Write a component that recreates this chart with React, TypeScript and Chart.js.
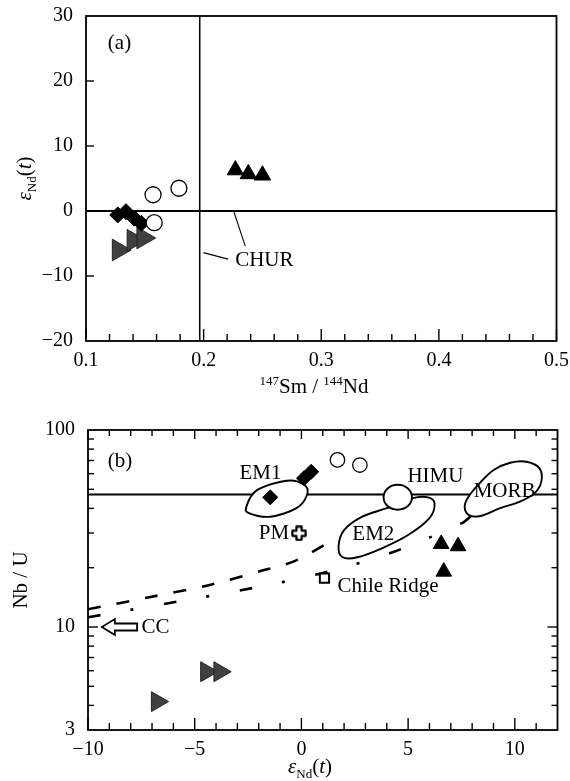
import React, { useEffect, useRef } from "react";
import { Chart, registerables } from "chart.js";
Chart.register(...registerables);

const FONT = "'Liberation Serif', 'Times New Roman', serif";

// ---------------- Panel (a) ----------------
const aXTickValues = [0.1, 0.2, 0.3, 0.4, 0.5];
const aXMinorTicks = [0.12, 0.14, 0.16, 0.18, 0.22, 0.24, 0.26, 0.28, 0.32, 0.34, 0.36, 0.38, 0.42, 0.44, 0.46, 0.48];
const aYTickValues = [-20, -10, 0, 10, 20, 30];
const aYInnerTicks = [-10, 0, 10, 20];
const aCircles = [
  { x: 0.157, y: 2.5 },
  { x: 0.179, y: 3.5 },
  { x: 0.158, y: -1.8 },
];
const aDiamonds = [
  { x: 0.127, y: -0.6 },
  { x: 0.134, y: -0.1 },
  { x: 0.141, y: -1.1 },
  { x: 0.147, y: -1.9 },
];
const aTrianglesUp = [
  { x: 0.227, y: 6.3 },
  { x: 0.238, y: 5.7 },
  { x: 0.25, y: 5.5 },
];
const aTrianglesRight = [
  { x: 0.1277, y: -6.0 },
  { x: 0.1403, y: -4.5 },
  { x: 0.1486, y: -4.15 },
];
const CHUR_SMND = 0.1967;
const CHUR_END = 0;
const aChurLeader1 = [
  { x: 0.1998, y: -6.4 },
  { x: 0.2208, y: -7.4 },
];
const aChurLeader2 = [
  { x: 0.2258, y: -0.15 },
  { x: 0.2354, y: -5.4 },
];
const aChurLabel = { x: 0.2268, y: -7.6, text: "CHUR" };
const aPanelLabel = { x: 0.1285, y: 25.7, text: "(a)" };

// ---------------- Panel (b) ----------------
const bXTickValues = [-10, -5, 0, 5, 10];
const bXMinorTicks = [-9, -8, -7, -6, -4, -3, -2, -1, 1, 2, 3, 4, 6, 7, 8, 9, 11];
const bYTickValues = [3, 10, 100];
const bYMinorTicks = [4, 5, 6, 7, 8, 9, 20, 30, 40, 50, 60, 70, 80, 90];
const bYMajorInner = [10];
const NBU_MANTLE = 47;
const bCircles = [
  { x: 1.69, y: 70.5 },
  { x: 2.74, y: 66.4 },
];
const bDiamonds = [
  { x: -1.46, y: 45.5 },
  { x: 0.12, y: 56.9 },
  { x: 0.46, y: 61.4 },
];
const bTrianglesUp = [
  { x: 6.55, y: 26.4 },
  { x: 7.34, y: 25.7 },
  { x: 6.67, y: 19.1 },
];
const bTrianglesRight = [
  { x: -6.76, y: 4.18 },
  { x: -4.45, y: 5.93 },
  { x: -3.83, y: 5.93 },
];
const bPM = [{ x: -0.11, y: 29.9 }];
const bChileRidge = [{ x: 1.08, y: 17.7 }];
const bUpperDash = [
  { x: -10, y: 12.3 },
  { x: -7.07, y: 14.2 },
  { x: -4.34, y: 16.3 },
  { x: -1.71, y: 19.5 },
  { x: -0.32, y: 21.6 },
  { x: 1.2, y: 26.5 },
];
const bLowerDash = [
  { x: -10, y: 11.2 },
  { x: -6.24, y: 13.2 },
  { x: -2.77, y: 15.4 },
  { x: 0.83, y: 18.6 },
  { x: 4.2, y: 23.8 },
  { x: 7.53, y: 33.7 },
  { x: 8.0, y: 37.0 },
];
const fieldEM1 = [
  { x: -2.57, y: 41.1 },
  { x: -2.08, y: 49.5 },
  { x: -0.69, y: 55.3 },
  { x: 0.15, y: 52.6 },
  { x: 0.26, y: 46.8 },
  { x: -0.23, y: 40.1 },
  { x: -1.46, y: 36.3 },
  { x: -2.46, y: 37.8 },
];
const fieldEM2 = [
  { x: 5.19, y: 45.0 },
  { x: 5.93, y: 45.5 },
  { x: 6.24, y: 42.4 },
  { x: 6.0, y: 35.7 },
  { x: 5.0, y: 29.3 },
  { x: 3.77, y: 25.1 },
  { x: 2.62, y: 22.6 },
  { x: 1.93, y: 22.6 },
  { x: 1.74, y: 25.6 },
  { x: 2.0, y: 31.0 },
  { x: 2.85, y: 36.3 },
  { x: 4.0, y: 40.1 },
];
const fieldHIMU = [
  { x: 5.18, y: 45.5 },
  { x: 4.99, y: 50.5 },
  { x: 4.51, y: 52.7 },
  { x: 4.04, y: 50.5 },
  { x: 3.85, y: 45.5 },
  { x: 4.04, y: 41.1 },
  { x: 4.51, y: 39.4 },
  { x: 4.99, y: 41.1 },
];
const fieldMORB = [
  { x: 8.42, y: 54.7 },
  { x: 9.01, y: 62.7 },
  { x: 9.78, y: 68.2 },
  { x: 10.55, y: 69.0 },
  { x: 11.16, y: 63.9 },
  { x: 11.24, y: 54.7 },
  { x: 10.93, y: 47.8 },
  { x: 10.24, y: 43.3 },
  { x: 9.32, y: 40.1 },
  { x: 8.39, y: 36.6 },
  { x: 7.85, y: 37.0 },
  { x: 7.65, y: 40.9 },
  { x: 7.85, y: 46.2 },
];
const bLabels = [
  { x: -8.5, y: 69.6, text: "(b)" },
  { x: -1.92, y: 60.1, text: "EM1" },
  { x: 6.28, y: 58.4, text: "HIMU" },
  { x: 9.52, y: 49.0, text: "MORB" },
  { x: -1.29, y: 29.8, text: "PM" },
  { x: 3.37, y: 29.5, text: "EM2" },
  { x: 4.06, y: 16.0, text: "Chile Ridge" },
  { x: -6.84, y: 10.0, text: "CC" },
];
const bCCArrow = { tailX: -7.7, headX: -9.35, y: 10 };

// ---------------- helpers ----------------
const LABEL_SIZE = 21;
const TICK_SIZE = 20;
const fmtNum = (v: number) => (v < 0 ? "\u2212" + Math.abs(v) : String(v));

function drawRich(ctx: CanvasRenderingContext2D, parts: any[], cx: number, cy: number, rotate: boolean) {
  ctx.save();
  ctx.translate(cx, cy);
  if (rotate) ctx.rotate(-Math.PI / 2);
  ctx.textBaseline = "alphabetic";
  ctx.textAlign = "left";
  let w = 0;
  for (const p of parts) {
    ctx.font = p.font;
    w += ctx.measureText(p.t).width;
  }
  let x = -w / 2;
  for (const p of parts) {
    ctx.font = p.font;
    ctx.fillStyle = "#000";
    ctx.fillText(p.t, x, p.dy);
    x += ctx.measureText(p.t).width;
  }
  ctx.restore();
}

function epsParts(size: number) {
  return [
    { t: "\u03b5", font: `italic ${size}px ${FONT}`, dy: size * 0.33 },
    { t: "Nd", font: `${Math.round(size * 0.62)}px ${FONT}`, dy: size * 0.58 },
    { t: "(", font: `${size}px ${FONT}`, dy: size * 0.33 },
    { t: "t", font: `italic ${size}px ${FONT}`, dy: size * 0.33 },
    { t: ")", font: `${size}px ${FONT}`, dy: size * 0.33 },
  ];
}

function drawTicks(chart: any, specs: any[]) {
  const ctx = chart.ctx;
  const { left, right, top, bottom } = chart.chartArea;
  ctx.save();
  ctx.strokeStyle = "#000";
  ctx.lineWidth = 1.4;
  for (const s of specs) {
    const scale = chart.scales[s.axis];
    for (const v of s.values) {
      const p = scale.getPixelForValue(v);
      ctx.beginPath();
      if (s.side === "bottom") { ctx.moveTo(p, bottom); ctx.lineTo(p, bottom - s.len); }
      if (s.side === "top") { ctx.moveTo(p, top); ctx.lineTo(p, top + s.len); }
      if (s.side === "left") { ctx.moveTo(left, p); ctx.lineTo(left + s.len, p); }
      if (s.side === "right") { ctx.moveTo(right, p); ctx.lineTo(right - s.len, p); }
      ctx.stroke();
    }
  }
  ctx.lineWidth = 1.8;
  ctx.strokeRect(left, top, right - left, bottom - top);
  ctx.restore();
}

function closedCurve(ctx: CanvasRenderingContext2D, pts: { x: number; y: number }[]) {
  const n = pts.length;
  ctx.beginPath();
  ctx.moveTo(pts[0].x, pts[0].y);
  for (let i = 0; i < n; i++) {
    const p0 = pts[(i - 1 + n) % n], p1 = pts[i], p2 = pts[(i + 1) % n], p3 = pts[(i + 2) % n];
    ctx.bezierCurveTo(
      p1.x + (p2.x - p0.x) / 6, p1.y + (p2.y - p0.y) / 6,
      p2.x - (p3.x - p1.x) / 6, p2.y - (p3.y - p1.y) / 6,
      p2.x, p2.y
    );
  }
  ctx.closePath();
}

function makePlusImage() {
  const c = document.createElement("canvas");
  const S = 16;
  c.width = S; c.height = S;
  const g = c.getContext("2d")!;
  const cx = S / 2, cy = S / 2, a = 2.6, L = 6.6;
  g.beginPath();
  g.moveTo(cx - a, cy - L); g.lineTo(cx + a, cy - L); g.lineTo(cx + a, cy - a);
  g.lineTo(cx + L, cy - a); g.lineTo(cx + L, cy + a); g.lineTo(cx + a, cy + a);
  g.lineTo(cx + a, cy + L); g.lineTo(cx - a, cy + L); g.lineTo(cx - a, cy + a);
  g.lineTo(cx - L, cy + a); g.lineTo(cx - L, cy - a); g.lineTo(cx - a, cy - a);
  g.closePath();
  g.fillStyle = "#fff"; g.fill();
  g.lineWidth = 2.2; g.lineJoin = "round"; g.strokeStyle = "#000"; g.stroke();
  return c;
}

const lineDS = (data: any[], extra: any = {}) => ({
  data, showLine: true, pointRadius: 0, borderColor: "#000", borderWidth: 1.5, fill: false, ...extra,
});

// ---------------- chart A ----------------
function buildA(canvas: HTMLCanvasElement) {
  const pluginA = {
    id: "panelA",
    afterDraw(chart: any) {
      const ctx = chart.ctx;
      const xs = chart.scales.x, ys = chart.scales.y;
      drawTicks(chart, [
        { axis: "x", side: "bottom", values: aXTickValues, len: 12 },
        { axis: "x", side: "bottom", values: aXMinorTicks, len: 7 },
        { axis: "y", side: "left", values: aYInnerTicks, len: 8 },
      ]);
      ctx.save();
      ctx.fillStyle = "#000";
      ctx.font = `${LABEL_SIZE}px ${FONT}`;
      ctx.textBaseline = "middle";
      ctx.textAlign = "left";
      ctx.fillText(aChurLabel.text, xs.getPixelForValue(aChurLabel.x), ys.getPixelForValue(aChurLabel.y));
      ctx.textAlign = "center";
      ctx.fillText(aPanelLabel.text, xs.getPixelForValue(aPanelLabel.x), ys.getPixelForValue(aPanelLabel.y));
      ctx.restore();
      const S = LABEL_SIZE;
      drawRich(ctx, [
        { t: "147", font: `${Math.round(S * 0.62)}px ${FONT}`, dy: -S * 0.38 },
        { t: "Sm / ", font: `${S}px ${FONT}`, dy: 0 },
        { t: "144", font: `${Math.round(S * 0.62)}px ${FONT}`, dy: -S * 0.38 },
        { t: "Nd", font: `${S}px ${FONT}`, dy: 0 },
      ], 314, 393, false);
      drawRich(ctx, epsParts(S), 24, (chart.chartArea.top + chart.chartArea.bottom) / 2, true);
    },
  };
  return new Chart(canvas, {
    type: "scatter",
    data: {
      datasets: [
        { label: "circles", data: aCircles, pointStyle: "circle", pointRadius: 8, backgroundColor: "#fff", borderColor: "#000", borderWidth: 1.3, order: 1 },
        { label: "diamonds", data: aDiamonds, pointStyle: "rectRot", pointRadius: 8, backgroundColor: "#000", borderColor: "#000", borderWidth: 1, order: 2 },
        { label: "triUp", data: aTrianglesUp, pointStyle: "triangle", pointRadius: 9.5, backgroundColor: "#000", borderColor: "#000", borderWidth: 1, order: 1 },
        { label: "triRight", data: aTrianglesRight, pointStyle: "triangle", rotation: 90, pointRadius: 12.5, backgroundColor: "#404040", borderColor: "#222", borderWidth: 1, order: 3 },
        lineDS([{ x: CHUR_SMND, y: -20 }, { x: CHUR_SMND, y: 30 }], { order: 10 }),
        lineDS([{ x: 0.1, y: CHUR_END }, { x: 0.5, y: CHUR_END }], { order: 10, borderWidth: 1.8 }),
        lineDS(aChurLeader1, { order: 10, borderWidth: 1.1 }),
        lineDS(aChurLeader2, { order: 10, borderWidth: 1.1 }),
      ],
    },
    options: {
      responsive: false,
      animation: false,
      devicePixelRatio: 1,
      events: [],
      layout: { padding: { left: 0, right: 7, top: 16, bottom: 0 } },
      plugins: { legend: { display: false }, tooltip: { enabled: false }, title: { display: false } },
      scales: {
        x: {
          type: "linear", min: 0.1, max: 0.5,
          grid: { display: false }, border: { display: false },
          afterBuildTicks: (s: any) => { s.ticks = aXTickValues.map((v) => ({ value: v })); },
          afterFit: (s: any) => { s.height = 59; s.paddingLeft = 0; s.paddingRight = 0; },
          ticks: { font: { family: FONT, size: TICK_SIZE }, color: "#000", padding: 0, maxRotation: 0, autoSkip: false, callback: (v: any) => Number(v).toFixed(1) },
        },
        y: {
          type: "linear", min: -20, max: 30,
          grid: { display: false }, border: { display: false },
          afterBuildTicks: (s: any) => { s.ticks = aYTickValues.map((v) => ({ value: v })); },
          afterFit: (s: any) => { s.width = 86; s.paddingTop = 0; s.paddingBottom = 0; },
          ticks: { font: { family: FONT, size: TICK_SIZE }, color: "#000", padding: 5, autoSkip: false, callback: (v: any) => fmtNum(Number(v)) },
        },
      },
    },
    plugins: [pluginA],
  } as any);
}

// ---------------- chart B ----------------
function buildB(canvas: HTMLCanvasElement) {
  const plusImg = makePlusImage();
  const pluginB = {
    id: "panelB",
    afterDatasetDraw(chart: any, args: any) {
      const ds = chart.data.datasets[args.index];
      if (ds.label !== "hline") return;
      const ctx = chart.ctx;
      const xs = chart.scales.x, ys = chart.scales.y;
      const toPx = (pts: any[]) => pts.map((p) => ({ x: xs.getPixelForValue(p.x), y: ys.getPixelForValue(p.y) }));
      ctx.save();
      ctx.strokeStyle = "#000";
      ctx.lineWidth = 1.9;
      ctx.fillStyle = "#fff";
      for (const f of [fieldEM1, fieldEM2, fieldMORB, fieldHIMU]) {
        closedCurve(ctx, toPx(f));
        ctx.fill();
        ctx.stroke();
      }
      ctx.restore();
    },
    afterDraw(chart: any) {
      const ctx = chart.ctx;
      const xs = chart.scales.x, ys = chart.scales.y;
      drawTicks(chart, [
        { axis: "x", side: "bottom", values: bXTickValues, len: 12 },
        { axis: "x", side: "bottom", values: bXMinorTicks, len: 7 },
        { axis: "x", side: "top", values: bXTickValues, len: 9 },
        { axis: "x", side: "top", values: bXMinorTicks, len: 6 },
        { axis: "y", side: "left", values: bYMinorTicks, len: 6 },
        { axis: "y", side: "left", values: bYMajorInner, len: 10 },
        { axis: "y", side: "right", values: bYMinorTicks, len: 6 },
        { axis: "y", side: "right", values: bYMajorInner, len: 10 },
      ]);
      // CC arrow
      const tx = xs.getPixelForValue(bCCArrow.tailX), hx = xs.getPixelForValue(bCCArrow.headX), ay = ys.getPixelForValue(bCCArrow.y);
      const hl = 13, hh = 8, sh = 3.5;
      ctx.save();
      ctx.beginPath();
      ctx.moveTo(hx, ay);
      ctx.lineTo(hx + hl, ay - hh);
      ctx.lineTo(hx + hl, ay - sh);
      ctx.lineTo(tx, ay - sh);
      ctx.lineTo(tx, ay + sh);
      ctx.lineTo(hx + hl, ay + sh);
      ctx.lineTo(hx + hl, ay + hh);
      ctx.closePath();
      ctx.fillStyle = "#fff"; ctx.fill();
      ctx.lineWidth = 1.8; ctx.strokeStyle = "#000"; ctx.stroke();
      ctx.fillStyle = "#000";
      ctx.font = `${LABEL_SIZE}px ${FONT}`;
      ctx.textBaseline = "middle";
      ctx.textAlign = "center";
      for (const l of bLabels) {
        ctx.fillText(l.text, xs.getPixelForValue(l.x), ys.getPixelForValue(l.y));
      }
      ctx.restore();
      const S = LABEL_SIZE;
      drawRich(ctx, epsParts(S), 310, 366, false);
      drawRich(ctx, [{ t: "Nb / U", font: `${S}px ${FONT}`, dy: S * 0.33 }], 20, (chart.chartArea.top + chart.chartArea.bottom) / 2, true);
    },
  };
  return new Chart(canvas, {
    type: "scatter",
    data: {
      datasets: [
        { label: "circles", data: bCircles, pointStyle: "circle", pointRadius: 7.2, backgroundColor: "#fff", borderColor: "#000", borderWidth: 1.3, order: 1 },
        { label: "diamonds", data: bDiamonds, pointStyle: "rectRot", pointRadius: 7.5, backgroundColor: "#000", borderColor: "#000", borderWidth: 1, order: 1 },
        { label: "triUp", data: bTrianglesUp, pointStyle: "triangle", pointRadius: 9, backgroundColor: "#000", borderColor: "#000", borderWidth: 1, order: 1 },
        { label: "triRight", data: bTrianglesRight, pointStyle: "triangle", rotation: 90, pointRadius: 11.5, backgroundColor: "#404040", borderColor: "#222", borderWidth: 1, order: 2 },
        { label: "PM", data: bPM, pointStyle: plusImg, pointRadius: 8, order: 1 },
        { label: "chile", data: bChileRidge, pointStyle: "rect", pointRadius: 6.5, backgroundColor: "#fff", borderColor: "#000", borderWidth: 2, order: 1 },
        lineDS(bLowerDash, { label: "lowerDash", order: 13, borderWidth: 2.6, borderDash: [13, 30, 3, 31], tension: 0.3 }),
        lineDS(bUpperDash, { label: "upperDash", order: 12, borderWidth: 2.6, borderDash: [13, 16], tension: 0.3 }),
        lineDS([{ x: -10, y: NBU_MANTLE }, { x: 12, y: NBU_MANTLE }], { label: "hline", order: 11, borderWidth: 2 }),
      ],
    },
    options: {
      responsive: false,
      animation: false,
      devicePixelRatio: 1,
      events: [],
      layout: { padding: { left: 0, right: 4, top: 30, bottom: 0 } },
      plugins: { legend: { display: false }, tooltip: { enabled: false }, title: { display: false } },
      scales: {
        x: {
          type: "linear", min: -10, max: 12,
          grid: { display: false }, border: { display: false },
          afterBuildTicks: (s: any) => { s.ticks = bXTickValues.map((v) => ({ value: v })); },
          afterFit: (s: any) => { s.height = 51; s.paddingLeft = 0; s.paddingRight = 0; },
          ticks: { font: { family: FONT, size: TICK_SIZE }, color: "#000", padding: 0, maxRotation: 0, autoSkip: false, callback: (v: any) => fmtNum(Number(v)) },
        },
        y: {
          type: "logarithmic", min: 3, max: 100,
          grid: { display: false }, border: { display: false },
          afterBuildTicks: (s: any) => { s.ticks = bYTickValues.map((v) => ({ value: v })); },
          afterFit: (s: any) => { s.width = 88; s.paddingTop = 0; s.paddingBottom = 0; },
          ticks: { font: { family: FONT, size: TICK_SIZE }, color: "#000", padding: 5, autoSkip: false, callback: (v: any) => String(v) },
        },
      },
    },
    plugins: [pluginB],
  } as any);
}

export default function App() {
  const refA = useRef<HTMLCanvasElement>(null);
  const refB = useRef<HTMLCanvasElement>(null);
  useEffect(() => {
    const a = buildA(refA.current!);
    const b = buildB(refB.current!);
    return () => { a.destroy(); b.destroy(); };
  }, []);
  return (
    <div style={{ position: "absolute", left: 0, top: 0, width: 570, height: 781, background: "#fff", overflow: "hidden" }}>
      <canvas ref={refA} width={570} height={400} style={{ position: "absolute", left: 0, top: 0, width: 570, height: 400 }} />
      <canvas ref={refB} width={570} height={381} style={{ position: "absolute", left: 0, top: 400, width: 570, height: 381 }} />
    </div>
  );
}
